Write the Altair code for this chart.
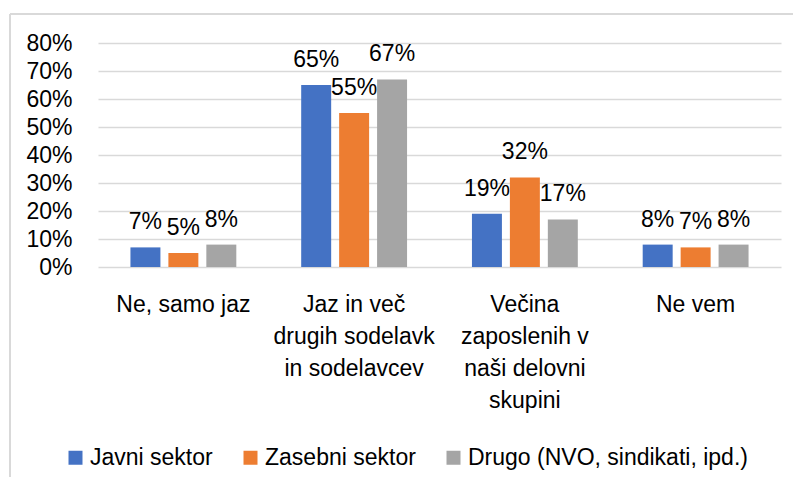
import altair as alt
import pandas as pd

categories = [
    "Ne, samo jaz",
    "Jaz in več\ndrugih sodelavk\nin sodelavcev",
    "Večina\nzaposlenih v\nnaši delovni\nskupini",
    "Ne vem",
]
series = ["Javni sektor", "Zasebni sektor", "Drugo (NVO, sindikati, ipd.)"]
javni = [0.07, 0.65, 0.19, 0.08]
zasebni = [0.05, 0.55, 0.32, 0.07]
drugo = [0.08, 0.67, 0.17, 0.08]
colors = ["#4472C4", "#ED7D31", "#A5A5A5"]
y_ticks = [0, 0.1, 0.2, 0.3, 0.4, 0.5, 0.6, 0.7, 0.8]

rows = []
for s, vals in zip(series, [javni, zasebni, drugo]):
    for c, v in zip(categories, vals):
        rows.append({"cat": c, "series": s, "value": v})
df = pd.DataFrame(rows)

FONT = "Liberation Sans"
FS = 23

x = alt.X("cat:N", sort=categories,
          scale=alt.Scale(paddingInner=0.38, paddingOuter=0.19),
          axis=alt.Axis(title=None, labelAngle=0, domain=False, ticks=False, tickSize=0,
                        labelPadding=26, labelFontSize=FS, labelFont=FONT,
                        labelColor="#000000", labelLineHeight=32,
                        labelExpr="split(datum.label, '\\n')"))
xo = alt.XOffset("series:N", sort=series,
                 scale=alt.Scale(paddingInner=0.21, paddingOuter=0))
y = alt.Y("value:Q",
          scale=alt.Scale(domain=[0, 0.8], nice=False),
          axis=alt.Axis(title=None, format=".0%", values=y_ticks, domain=False,
                        ticks=False, tickSize=0, labelPadding=26, labelFontSize=FS,
                        labelFont=FONT, labelColor="#000000",
                        gridColor="#D9D9D9", gridWidth=1.5))
color = alt.Color("series:N", sort=series,
                  scale=alt.Scale(domain=series, range=colors),
                  legend=alt.Legend(title=None, orient="none", direction="horizontal",
                                    legendX=-34, legendY=403,
                                    symbolType="square", symbolSize=196,
                                    symbolStrokeWidth=0, labelFontSize=FS,
                                    labelFont=FONT, labelColor="#000000",
                                    labelOffset=3, columnPadding=26, labelLimit=500))

base = alt.Chart(df)
bars = base.mark_bar().encode(x=x, xOffset=xo, y=y, color=color)
labels = base.mark_text(baseline="alphabetic", dy=-18, fontSize=FS, font=FONT,
                        color="#000000").encode(
    x=x, xOffset=xo, y=y, text=alt.Text("value:Q", format=".0%"))

frame = pd.DataFrame({"a": [0]})
top_line = alt.Chart(frame).mark_rule(color="#D9D9D9", strokeWidth=2).encode(
    x=alt.value(-88), x2=alt.value(705), y=alt.value(-29))
left_line = alt.Chart(frame).mark_rule(color="#D9D9D9", strokeWidth=2).encode(
    x=alt.value(-88), y=alt.value(-29), y2=alt.value(450))

chart = alt.layer(top_line, left_line, bars, labels).properties(
    width=683, height=224,
    autosize=alt.AutoSizeParams(type="none"),
    padding={"left": 90, "top": 35, "right": 12, "bottom": 210},
    background="white",
).configure_view(stroke=None)

chart.save("out.html", embed_options={"renderer": "svg", "actions": False})
